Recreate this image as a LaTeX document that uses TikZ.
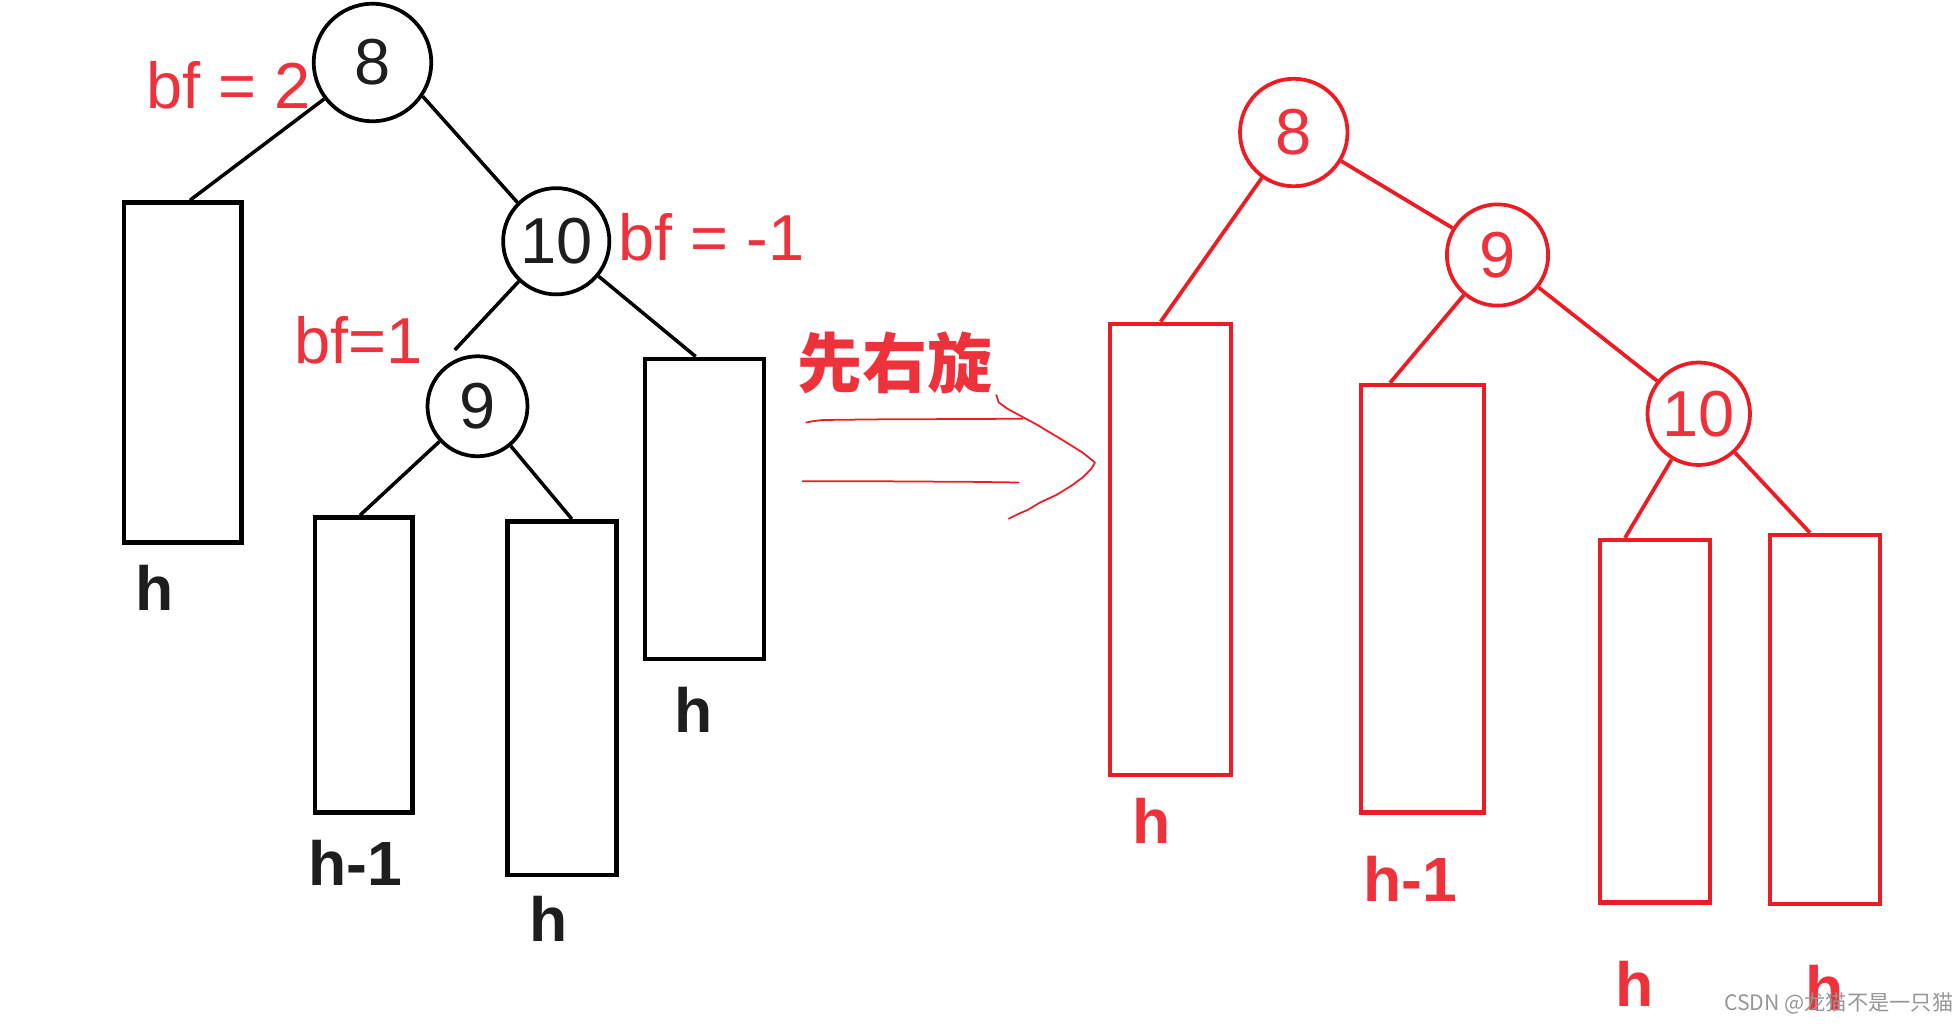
\documentclass[tikz,border=0pt]{standalone}
\usepackage{fontspec}
\setmainfont{Liberation Sans}
\newfontfamily\cjk{Noto Sans CJK SC}
\usetikzlibrary{calc}
\definecolor{lred}{RGB}{237,28,36}
\definecolor{tred}{RGB}{238,50,60}
\definecolor{wm}{RGB}{150,150,150}
\definecolor{ink}{RGB}{30,30,30}
\begin{document}
\begin{tikzpicture}[x=0.5pt,y=-0.5pt,
  bcirc/.style={circle,draw=black,line width=1.5pt,inner sep=0pt,font=\fontsize{26}{26}\selectfont,text=ink},
  rcirc/.style={circle,draw=lred,line width=1.5pt,inner sep=0pt,font=\fontsize{26}{26}\selectfont,text=tred},
  bbox/.style={rectangle,draw=black,line width=1.8pt,inner sep=0pt},
  rbox/.style={rectangle,draw=lred,line width=1.7pt,inner sep=0pt},
  bedge/.style={draw=black,line width=1.4pt},
  redge/.style={draw=lred,line width=1.5pt},
  blab/.style={font=\bfseries\fontsize{25}{25}\selectfont,text=ink,inner sep=0pt},
  rlab/.style={font=\bfseries\fontsize{25}{25}\selectfont,text=tred,inner sep=0pt},
  bflab/.style={font=\fontsize{26}{26}\selectfont,text=tred,inner sep=0pt},
  hand/.style={draw=lred,line width=0.7pt,line cap=round,line join=round},
]
\useasboundingbox (0,0) rectangle (1568,820);

% ---------- left tree (black) ----------
\node[bcirc,minimum size=47pt] (L8) at (298,50) {8};
\node[bcirc,minimum size=42.5pt] (L10) at (445,193) {10};
\node[bcirc,minimum size=40pt] (L9) at (382,325) {9};
\node[bbox,minimum width=47pt,minimum height=136pt] (LA) at (146,298) {};
\node[bbox,minimum width=47.5pt,minimum height=120pt] (LB) at (563.5,407) {};
\node[bbox,minimum width=39pt,minimum height=118pt] (LC) at (291,532) {};
\node[bbox,minimum width=43.5pt,minimum height=141.5pt] (LD) at (449.5,558.5) {};

\draw[bedge] (L8) -- ([xshift=3pt]LA.north);
\draw[bedge] (L8.-34) -- (L10.135);
\draw[bedge] (L10) -- ([shift={(-2pt,3pt)}]L9.110);
\draw[bedge] (L10) -- ([xshift=-3.5pt]LB.north);
\draw[bedge] (L9) -- ([xshift=-1.5pt]LC.north);
\draw[bedge] (L9) -- ([xshift=4pt]LD.north);

\node[bflab] (bf2) at (183,68) {bf = 2};
\node[bflab] (bfm1) at (569,190) {bf = -1};
\node[bflab] (bf1) at (287,272) {bf=1};

\node[blab] (hLA) at (124,470) {h};
\node[blab] (hLB) at (555,568) {h};
\node[blab] (hLC) at (284,690) {h-1};
\node[blab] (hLD) at (439,735) {h};

% ---------- arrow ----------
\node[font=\cjk\bfseries\fontsize{26}{26}\selectfont,text=tred,inner sep=0pt] (rot) at (716,290) {先右旋};
\coordinate (a1s) at (645,338);
\coordinate (a1e) at (818,335);
\coordinate (a2s) at (642,385);
\coordinate (a2e) at (815,386);
\draw[hand] (a1s) -- (650,337) -- (658,336) -- (700,335.5) -- (a1e);
\draw[hand] (a2s) -- (700,385) -- (780,385.5) -- (a2e);
\draw[hand] (797,316) -- (799,322) -- (806,327) -- (830,340) -- (850,352) -- (866,362) -- (876,370)
  -- (873,375) -- (866,382) -- (858,388) -- (845,396) -- (832,402) -- (822,408) -- (815,411) -- (807,415);

% ---------- right tree (red) ----------
\node[rcirc,minimum size=43pt] (R8) at (1035,106) {8};
\node[rcirc,minimum size=40.5pt] (R9) at (1198,204) {9};
\node[rcirc,minimum size=41pt] (R10) at (1359,331) {10};
\node[rbox,minimum width=48.5pt,minimum height=180.5pt] (RA) at (936.5,439.5) {};
\node[rbox,minimum width=49pt,minimum height=171pt] (RB) at (1138,479) {};
\node[rbox,minimum width=44pt,minimum height=145pt] (RC) at (1324,577) {};
\node[rbox,minimum width=44pt,minimum height=147.5pt] (RD) at (1460,575.5) {};

\draw[redge] (R8) -- ([xshift=-4pt]RA.north);
\draw[redge] (R8) -- (R9);
\draw[redge] (R9) -- ([xshift=-13pt]RB.north);
\draw[redge] (R9) -- (R10);
\draw[redge] (R10) -- ([xshift=-12pt]RC.north);
\draw[redge] (R10) -- ([xshift=-6pt]RD.north);

\node[rlab] (hRA) at (921,657) {h};
\node[rlab] (hRB) at (1128,703) {h-1};
\node[rlab] (hRC) at (1308,787) {h};
\node[rlab] (hRD) at (1460,790) {h};

% ---------- watermark ----------
\node[font=\cjk\fontsize{8.5}{8.5}\selectfont,text=wm,inner sep=0pt] (wmk) at (1471,803) {CSDN @龙猫不是一只猫};
\end{tikzpicture}
\end{document}
